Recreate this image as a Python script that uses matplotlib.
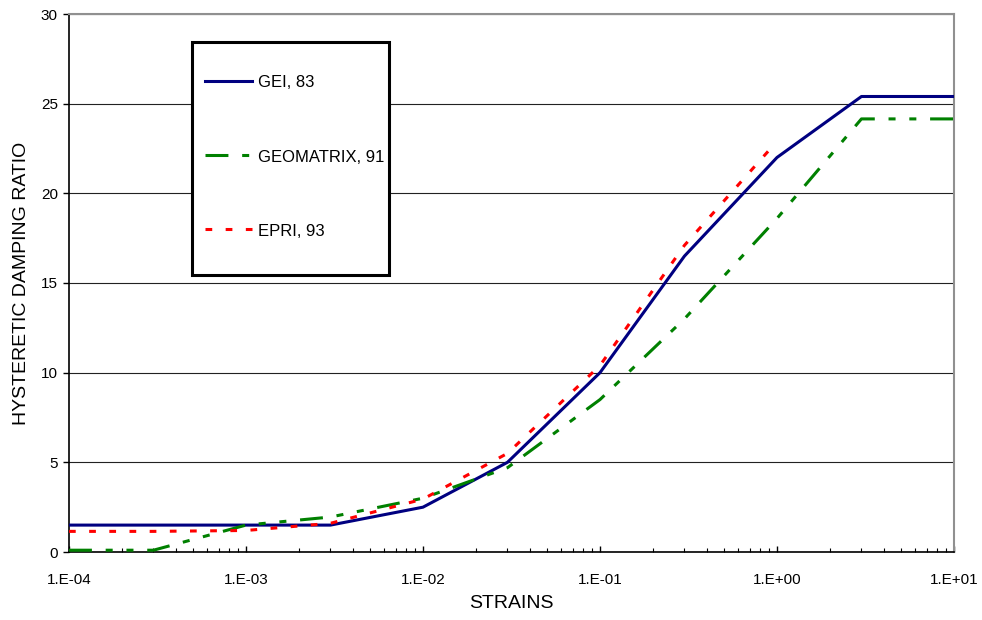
import numpy as np
import matplotlib.pyplot as plt
from matplotlib.ticker import LogLocator, FixedLocator

plt.rcParams['font.family'] = ['Liberation Sans', 'DejaVu Sans']

# Strain levels (log scale)
strains = [1e-4, 3e-4, 1e-3, 3e-3, 1e-2, 3e-2, 1e-1, 3e-1, 1e0, 3e0, 1e1]
gei_83 = [1.5, 1.5, 1.5, 1.5, 2.5, 5.0, 10.0, 16.5, 22.0, 25.4, 25.4]
geomatrix_91 = [0.1, 0.1, 1.5, 1.95, 3.0, 4.7, 8.5, 13.0, 18.6, 24.15, 24.15]

epri_strains = [1e-4, 3e-4, 1e-3, 3e-3, 1e-2, 3e-2, 1e-1, 3e-1, 1e0]
epri_93 = [1.15, 1.15, 1.2, 1.6, 2.95, 5.5, 10.4, 17.1, 22.9]

x_ticks = [1e-4, 1e-3, 1e-2, 1e-1, 1e0, 1e1]
x_ticklabels = ['1.E-04', '1.E-03', '1.E-02', '1.E-01', '1.E+00', '1.E+01']
y_ticks = [0, 5, 10, 15, 20, 25, 30]

fig = plt.figure(figsize=(9.82, 6.2), dpi=100)
ax = fig.add_axes([69 / 982, 1 - 552 / 620, 885 / 982, 538 / 620])

ax.plot(strains, gei_83, color='#000080', lw=2.2, label='GEI, 83', zorder=3)
ax.plot(strains, geomatrix_91, color='#008000', lw=2.2,
        linestyle=(0, (7.5, 4.5, 2.3, 4.5, 2.3, 4.5)), label='GEOMATRIX, 91', zorder=3)
ax.plot(epri_strains, epri_93, color='#FF0000', lw=2.2,
        linestyle=(0, (2.2, 4.4)), label='EPRI, 93', zorder=3)

ax.set_xscale('log')
ax.set_xlim(1e-4, 1e1)
ax.set_ylim(0, 30)

ax.xaxis.set_major_locator(FixedLocator(x_ticks))
ax.set_xticklabels(x_ticklabels)
ax.xaxis.set_minor_locator(LogLocator(base=10, subs=range(2, 10), numticks=20))
ax.yaxis.set_major_locator(FixedLocator(y_ticks))

ax.tick_params(axis='x', which='major', direction='in', length=4, width=1,
               labelsize=11, pad=15)
ax.tick_params(axis='x', which='minor', direction='in', length=3, width=0.8)
ax.tick_params(axis='y', which='major', direction='out', length=4, width=1,
               labelsize=11, pad=4)

ax.yaxis.grid(True, color='#222222', lw=0.8)
ax.set_axisbelow(True)

for side in ('left', 'bottom'):
    ax.spines[side].set_color('black')
    ax.spines[side].set_linewidth(1.2)
for side in ('top', 'right'):
    ax.spines[side].set_color('#909090')
    ax.spines[side].set_linewidth(1.5)

ax.set_xlabel('STRAINS', fontsize=14, labelpad=6)
ax.set_ylabel('HYSTERETIC DAMPING RATIO', fontsize=14, labelpad=8)

leg = ax.legend(loc='upper left', bbox_to_anchor=(0.139, 0.948), borderaxespad=0,
                fontsize=12, handlelength=3.28, handletextpad=0.35,
                handleheight=6.47, labelspacing=0, borderpad=0.3,
                fancybox=False, framealpha=1, edgecolor='black')
leg.get_frame().set_linewidth(2.2)
# tall rows put the handle above the text; move it down and in a bit
for line in leg.get_lines():
    xd = np.array(line.get_xdata(), dtype=float)
    yd = np.array(line.get_ydata(), dtype=float)
    line.set_xdata([xd[0] + 5.8, xd[-1]])
    line.set_ydata([yd[0] - 10, yd[-1] - 10])

fig.savefig('out.png', dpi=100)
